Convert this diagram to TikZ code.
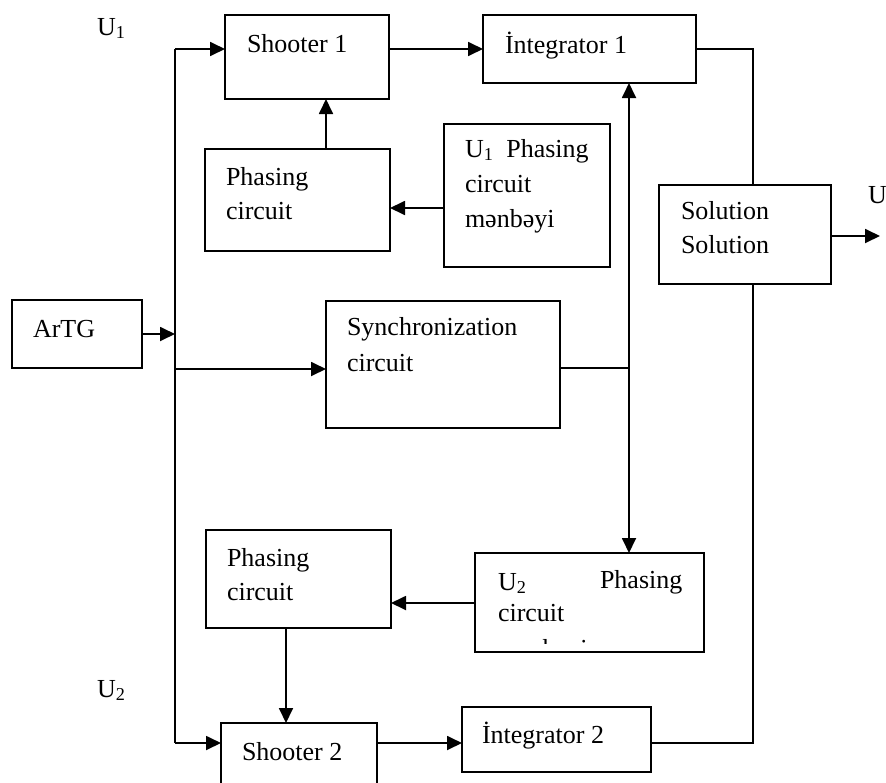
\documentclass[tikz,border=0pt]{standalone}
\usepackage{fontspec}
\setmainfont{Liberation Serif}
\usetikzlibrary{arrows.meta}
\begin{document}
\begin{tikzpicture}[x=1pt,y=-1pt, line width=1.8pt,
 blk/.style={draw, rectangle, inner sep=0pt, outer sep=0pt, anchor=north west},
 txt/.style={inner sep=0pt, outer sep=0pt, anchor=base west, font=\fontsize{26}{30}\selectfont},
 arr/.style={-{Triangle[length=15pt,width=14pt]}}]
\clip (0,0) rectangle (886,782);
\fill[white] (0,0) rectangle (886,782);
% boxes
\node[blk, minimum width=130pt, minimum height=68pt] (art) at (12,300) {};
\node[blk, minimum width=164pt, minimum height=84pt] (sh1) at (225,15) {};
\node[blk, minimum width=213pt, minimum height=68pt] (int1) at (483,15) {};
\node[blk, minimum width=185pt, minimum height=102pt] (ph1) at (205,149) {};
\node[blk, minimum width=166pt, minimum height=143pt] (u1) at (444,124) {};
\node[blk, minimum width=172pt, minimum height=99pt] (sol) at (659,185) {};
\node[blk, minimum width=234pt, minimum height=127pt] (sync) at (326,301) {};
\node[blk, minimum width=229pt, minimum height=99pt] (u2) at (475,553) {};
\node[blk, minimum width=185pt, minimum height=98pt] (ph2) at (206,530) {};
\node[blk, minimum width=156pt, minimum height=90pt] (sh2) at (221,723) {};
\node[blk, minimum width=189pt, minimum height=65pt] (int2) at (462,707) {};
% texts
\node[txt] (tart) at (33,337) {ArTG};
\node[txt] (tsh1) at (247,52) {Shooter 1};
\node[txt] (tint1) at (505,53) {İntegrator 1};
\node[txt] (tph1a) at (226,185) {Phasing};
\node[txt] (tph1b) at (226,219) {circuit};
\node[txt] (tu1a) at (465,157) {U\textsubscript{1}\ \ Phasing};
\node[txt] (tu1b) at (465,192) {circuit};
\node[txt] (tu1c) at (465,227) {mənbəyi};
\node[txt] (tsola) at (681,219) {Solution};
\node[txt] (tsolb) at (681,253) {Solution};
\node[txt] (tsynca) at (347,335) {Synchronization};
\node[txt] (tsyncb) at (347,371) {circuit};
\node[txt] (tu2a) at (498,590) {U\textsubscript{2}};
\node[txt] (tu2b) at (600,588) {Phasing};
\node[txt] (tu2c) at (498,621) {circuit};
\begin{scope}
\clip (475,553) rectangle (704,643);
\node[txt] (tu2d) at (498,657) {mənbəyi};
\end{scope}
\node[txt] (tph2a) at (227,566) {Phasing};
\node[txt] (tph2b) at (227,600) {circuit};
\node[txt] (tsh2) at (242,760) {Shooter 2};
\node[txt] (tint2) at (482,743) {İntegrator 2};
\node[txt] (lu1) at (97,35) {U\textsubscript{1}};
\node[txt] (lu2) at (97,697) {U\textsubscript{2}};
\node[txt] (lu) at (868,203) {U};
% connectors
\coordinate (bt) at (175,49);
\coordinate (bb) at (175,743);
\draw (bt) -- (bb);
\draw[arr] (bt) -- (bt -| sh1.west);
\draw[arr] (bt -| sh1.east) -- (bt -| int1.west);
\coordinate (rc) at (753,49);
\draw (bt -| int1.east) -- (rc) -- (rc |- sol.north);
\draw (rc |- sol.south) -- (rc |- bb) -- (bb -| int2.east);
\coordinate (uo) at (880,236);
\draw[arr] (uo -| sol.east) -- (uo);
\coordinate (p1) at (326,0);
\draw[arr] (p1 |- ph1.north) -- (p1 |- sh1.south);
\coordinate (y1) at (0,208);
\draw[arr] (y1 -| u1.west) -- (y1 -| ph1.east);
\coordinate (ya) at (175,334);
\draw[arr] (ya -| art.east) -- (ya);
\coordinate (ys) at (175,369);
\draw[arr] (ys) -- (ys -| sync.west);
\coordinate (j) at (629,368);
\draw (j -| sync.east) -- (j);
\draw[arr] (j) -- (j |- int1.south);
\draw[arr] (j) -- (j |- u2.north);
\coordinate (y2) at (0,603);
\draw[arr] (y2 -| u2.west) -- (y2 -| ph2.east);
\coordinate (p2) at (286,0);
\draw[arr] (p2 |- ph2.south) -- (p2 |- sh2.north);
\draw[arr] (bb) -- (bb -| sh2.west);
\draw[arr] (bb -| sh2.east) -- (bb -| int2.west);
\end{tikzpicture}
\end{document}
